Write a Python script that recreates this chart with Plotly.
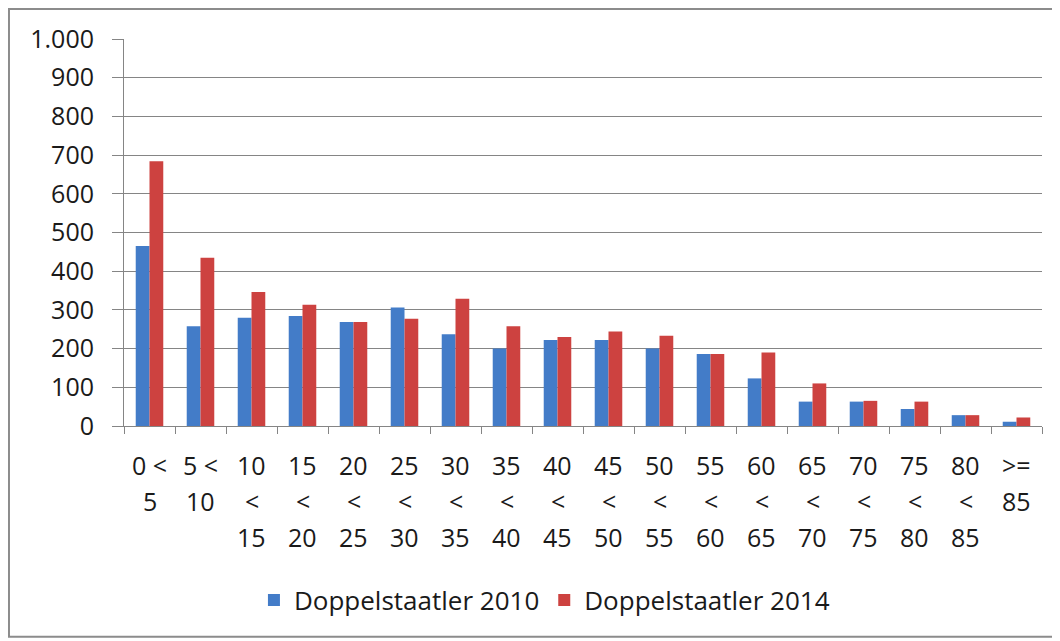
import plotly.graph_objects as go

# age groups, multi-line labels as in the source chart
categories = ["0-5", "5-10", "10-15", "15-20", "20-25", "25-30", "30-35", "35-40", "40-45",
              "45-50", "50-55", "55-60", "60-65", "65-70", "70-75", "75-80", "80-85", "85+"]
label_lines = [
    ["0 <", "5"], ["5 <", "10"], ["10", "<", "15"], ["15", "<", "20"], ["20", "<", "25"],
    ["25", "<", "30"], ["30", "<", "35"], ["35", "<", "40"], ["40", "<", "45"],
    ["45", "<", "50"], ["50", "<", "55"], ["55", "<", "60"], ["60", "<", "65"],
    ["65", "<", "70"], ["70", "<", "75"], ["75", "<", "80"], ["80", "<", "85"], [">=", "85"],
]

vals_2010 = [465, 258, 280, 284, 269, 306, 237, 200, 222, 222, 200, 186, 123, 63, 63, 44, 28, 11]
vals_2014 = [684, 435, 346, 313, 269, 277, 329, 258, 230, 244, 233, 186, 190, 110, 65, 63, 28, 22]

y_tickvals = [0, 100, 200, 300, 400, 500, 600, 700, 800, 900, 1000]
y_ticktext = ["0", "100", "200", "300", "400", "500", "600", "700", "800", "900", "1.000"]

BLUE = "#437cc8"
RED = "#cd4240"
FONT = "Open Sans, sans-serif"
TXT = "#1a1a1a"
AX = "#858585"

fig = go.Figure()
fig.add_trace(go.Bar(x=categories, y=vals_2010, name="Doppelstaatler 2010",
                     marker=dict(color=BLUE, line_width=0)))
fig.add_trace(go.Bar(x=categories, y=vals_2014, name="Doppelstaatler 2014",
                     marker=dict(color=RED, line_width=0)))

# x labels: one annotation per line so the line spacing matches the original
for cat, lines in zip(categories, label_lines):
    for i, txt in enumerate(lines):
        fig.add_annotation(x=cat, xref="x", y=0, yref="paper", yanchor="middle",
                           yshift=-39 - 35.8 * i, text=txt, showarrow=False,
                           font=dict(size=25, color=TXT, family=FONT))

# outer chart frame: left, top and bottom edges (right edge is off the picture)
fig.add_shape(type="path", xref="paper", yref="paper",
              path="M 1.2,-0.5444 L -0.1253,-0.5444 L -0.1253,1.0775 L 1.2,1.0775",
              line=dict(color="#8c8c8c", width=2), layer="below")

fig.update_layout(
    width=1052,
    height=633,
    paper_bgcolor="white",
    plot_bgcolor="white",
    font=dict(family=FONT, size=25, color=TXT),
    barmode="group",
    bargap=0.46,
    bargroupgap=0,
    margin=dict(l=116, r=18, t=31, b=215),
    showlegend=True,
    legend=dict(orientation="h", x=0.458, xanchor="center", y=-0.4496, yanchor="middle",
                font=dict(size=26, family=FONT, color=TXT), itemwidth=30,
                bgcolor="rgba(0,0,0,0)"),
    xaxis=dict(showticklabels=False, ticks="outside", tickson="boundaries", ticklen=7,
               tickcolor=AX, showline=True, linecolor=AX, linewidth=1,
               showgrid=False),
    yaxis=dict(range=[0, 1000], tickvals=y_tickvals, ticktext=y_ticktext,
               ticks="outside", ticklen=11, tickcolor=AX,
               ticklabelstandoff=13,
               showline=True, linecolor=AX, linewidth=1,
               showgrid=True, gridcolor=AX, gridwidth=1.2, zeroline=False),
)

fig.write_html("out.html")
